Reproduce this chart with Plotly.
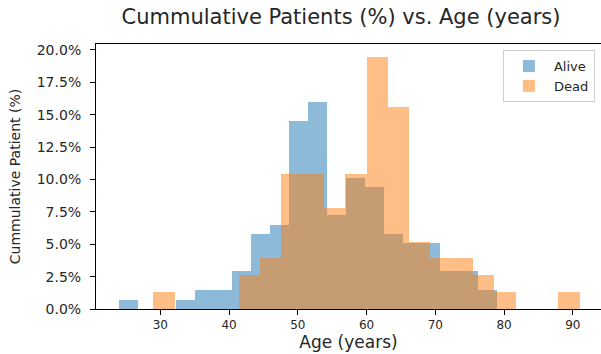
import numpy as np
import plotly.graph_objects as go

# ---- data (percent of patients per age bin) ----
alive_age_min, alive_age_max = 24.0, 79.0
dead_age_min, dead_age_max = 29.0, 91.0
n_bins = 20

alive_pct = [0.72, 0.0, 0.0, 0.72, 1.45, 1.45, 2.90, 5.80, 6.52, 14.49,
             15.94, 7.25, 10.14, 9.42, 5.80, 5.07, 5.07, 2.90, 2.90, 1.45]
dead_pct = [1.30, 0.0, 0.0, 0.0, 2.60, 3.90, 10.39, 10.39, 7.79, 10.39,
            19.48, 15.58, 5.19, 3.90, 3.90, 2.60, 1.30, 0.0, 0.0, 1.30]

y_ticks = [0, 2.5, 5, 7.5, 10, 12.5, 15, 17.5, 20]
x_ticks = [30, 40, 50, 60, 70, 80, 90]

alive_edges = np.linspace(alive_age_min, alive_age_max, n_bins + 1)
dead_edges = np.linspace(dead_age_min, dead_age_max, n_bins + 1)

FONT = "DejaVu Sans"
TXT = "#262626"

fig = go.Figure()
fig.add_trace(go.Bar(
    x=(alive_edges[:-1] + alive_edges[1:]) / 2,
    y=alive_pct,
    width=np.diff(alive_edges),
    name="Alive",
    marker=dict(color="#1f77b4", line=dict(width=0)),
    opacity=0.5,
))
fig.add_trace(go.Bar(
    x=(dead_edges[:-1] + dead_edges[1:]) / 2,
    y=dead_pct,
    width=np.diff(dead_edges),
    name="Dead",
    marker=dict(color="#ff7f0e", line=dict(width=0)),
    opacity=0.5,
))

fig.update_layout(
    width=601, height=354,
    margin=dict(l=96, r=0, t=44, b=45),
    barmode="overlay",
    bargap=0,
    plot_bgcolor="white",
    paper_bgcolor="white",
    font=dict(family=FONT, color=TXT),
    title=dict(
        text="Cummulative Patients (%) vs. Age (years)",
        font=dict(family=FONT, size=21, color=TXT),
        x=341 / 601, xanchor="center",
        y=1 - 17 / 354, yanchor="middle",
    ),
    legend=dict(
        x=0.988, xanchor="right",
        y=0.977, yanchor="top",
        bgcolor="rgba(255,255,255,0.8)",
        bordercolor="#d0d0d0", borderwidth=1,
        font=dict(family=FONT, size=13, color=TXT),
        itemwidth=40,
        tracegroupgap=0,
    ),
    showlegend=True,
)

fig.update_xaxes(
    range=[20.65, 94.1],
    tickvals=x_ticks,
    ticktext=[str(v) for v in x_ticks],
    showgrid=False, zeroline=False,
    showline=True, linecolor="#000", linewidth=1, mirror=True,
    ticks="outside", ticklen=5, tickcolor="#000",
    tickfont=dict(family=FONT, size=12, color=TXT),
    title=dict(text="Age (years)", font=dict(family=FONT, size=17, color=TXT), standoff=3),
)
fig.update_yaxes(
    range=[0, 20.45],
    tickvals=y_ticks,
    ticktext=[f"{v:.1f}%" for v in y_ticks],
    showgrid=False, zeroline=False,
    showline=True, linecolor="#000", linewidth=1,
    ticks="outside", ticklen=5, tickcolor="#000",
    ticklabelstandoff=6,
    tickfont=dict(family=FONT, size=14, color=TXT),
    title=dict(text="Cummulative Patient (%)", font=dict(family=FONT, size=14, color=TXT), standoff=12),
)

fig.write_html("out.html")
